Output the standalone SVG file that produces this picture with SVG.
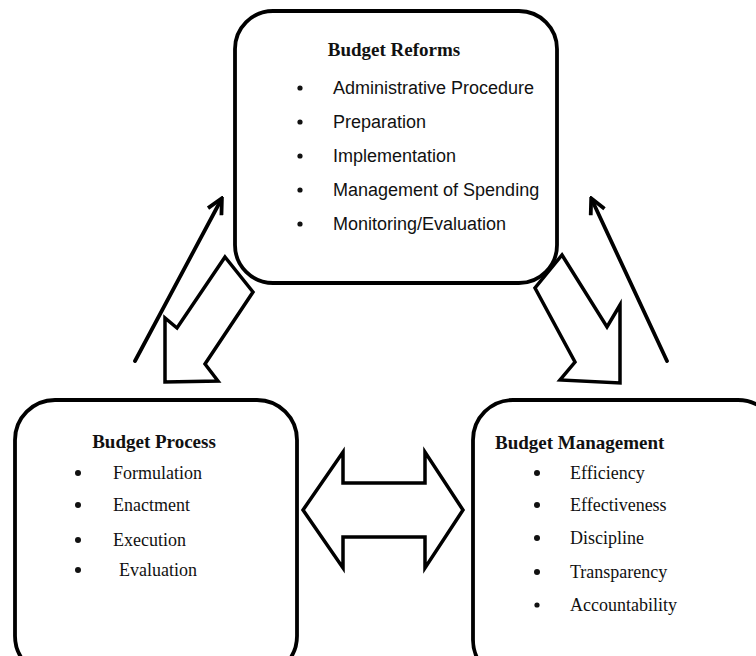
<svg xmlns="http://www.w3.org/2000/svg" width="756" height="656" viewBox="0 0 756 656">
<defs>
<style>
.box{fill:#fff;stroke:#000;stroke-width:3.8}
.blk{fill:#fff;stroke:#000;stroke-width:3.5;stroke-linejoin:miter}
.thin{fill:none;stroke:#000;stroke-width:3.8;stroke-linecap:round}
.sans{font-family:"Liberation Sans",Arial,sans-serif;font-size:18px;fill:#111}
.serif{font-family:"Liberation Serif","Times New Roman",serif;font-size:18px;fill:#111}
.title{font-family:"Liberation Serif","Times New Roman",serif;font-size:19px;font-weight:bold;fill:#111}
</style>
<marker id="ah" viewBox="0 0 10 10" refX="8" refY="5" markerWidth="5" markerHeight="5" orient="auto" markerUnits="strokeWidth">
<path d="M1,1 L9,5 L1,9" fill="none" stroke="#000" stroke-width="2"/>
</marker>
</defs>
<rect width="756" height="656" fill="#fff"/>
<g id="connectors">
<line class="thin" x1="135" y1="361" x2="221" y2="200" marker-end="url(#ah)"/>
<line class="thin" x1="667" y1="361" x2="592" y2="200" marker-end="url(#ah)"/>
<path class="blk" d="M225,257 L253,292 L205,364 L218,381 L165,382 L165,318 L177,328 Z"/>
<path class="blk" d="M562,255 L607,327 L620,305 L620,383 L560,380 L575,362 L535,288 Z"/>
<path class="blk" d="M303,510 L343,452 L343,483 L425,483 L425,452 L463,510 L425,568 L425,537 L343,537 L343,568 Z"/>
</g>
<g id="budget-reforms">
<rect class="box" x="235" y="11" width="322" height="272" rx="38"/>
<text class="title" x="394" y="56" text-anchor="middle">Budget Reforms</text>
<g class="sans">
<circle cx="300" cy="88" r="2.6"/><text x="333" y="94">Administrative Procedure</text>
<circle cx="300" cy="122" r="2.6"/><text x="333" y="128">Preparation</text>
<circle cx="300" cy="156" r="2.6"/><text x="333" y="162">Implementation</text>
<circle cx="300" cy="190" r="2.6"/><text x="333" y="196">Management of Spending</text>
<circle cx="300" cy="224" r="2.6"/><text x="333" y="230">Monitoring/Evaluation</text>
</g>
</g>
<g id="budget-process">
<rect class="box" x="15" y="400" width="282" height="276" rx="40"/>
<text class="title" x="154" y="448" text-anchor="middle">Budget Process</text>
<g class="serif">
<circle cx="78" cy="473" r="3"/><text x="113" y="479">Formulation</text>
<circle cx="78" cy="505" r="3"/><text x="113" y="511">Enactment</text>
<circle cx="78" cy="540" r="3"/><text x="113" y="546">Execution</text>
<circle cx="78" cy="570" r="3"/><text x="119" y="576">Evaluation</text>
</g>
</g>
<g id="budget-management">
<rect class="box" x="473" y="400" width="305" height="280" rx="40"/>
<text class="title" x="495" y="449">Budget Management</text>
<g class="serif">
<circle cx="537" cy="473" r="3"/><text x="570" y="479">Efficiency</text>
<circle cx="537" cy="505" r="3"/><text x="570" y="511">Effectiveness</text>
<circle cx="537" cy="538" r="3"/><text x="570" y="544">Discipline</text>
<circle cx="537" cy="572" r="3"/><text x="570" y="578">Transparency</text>
<circle cx="537" cy="605" r="2.6"/><text x="570" y="611">Accountability</text>
</g>
</g>
</svg>
